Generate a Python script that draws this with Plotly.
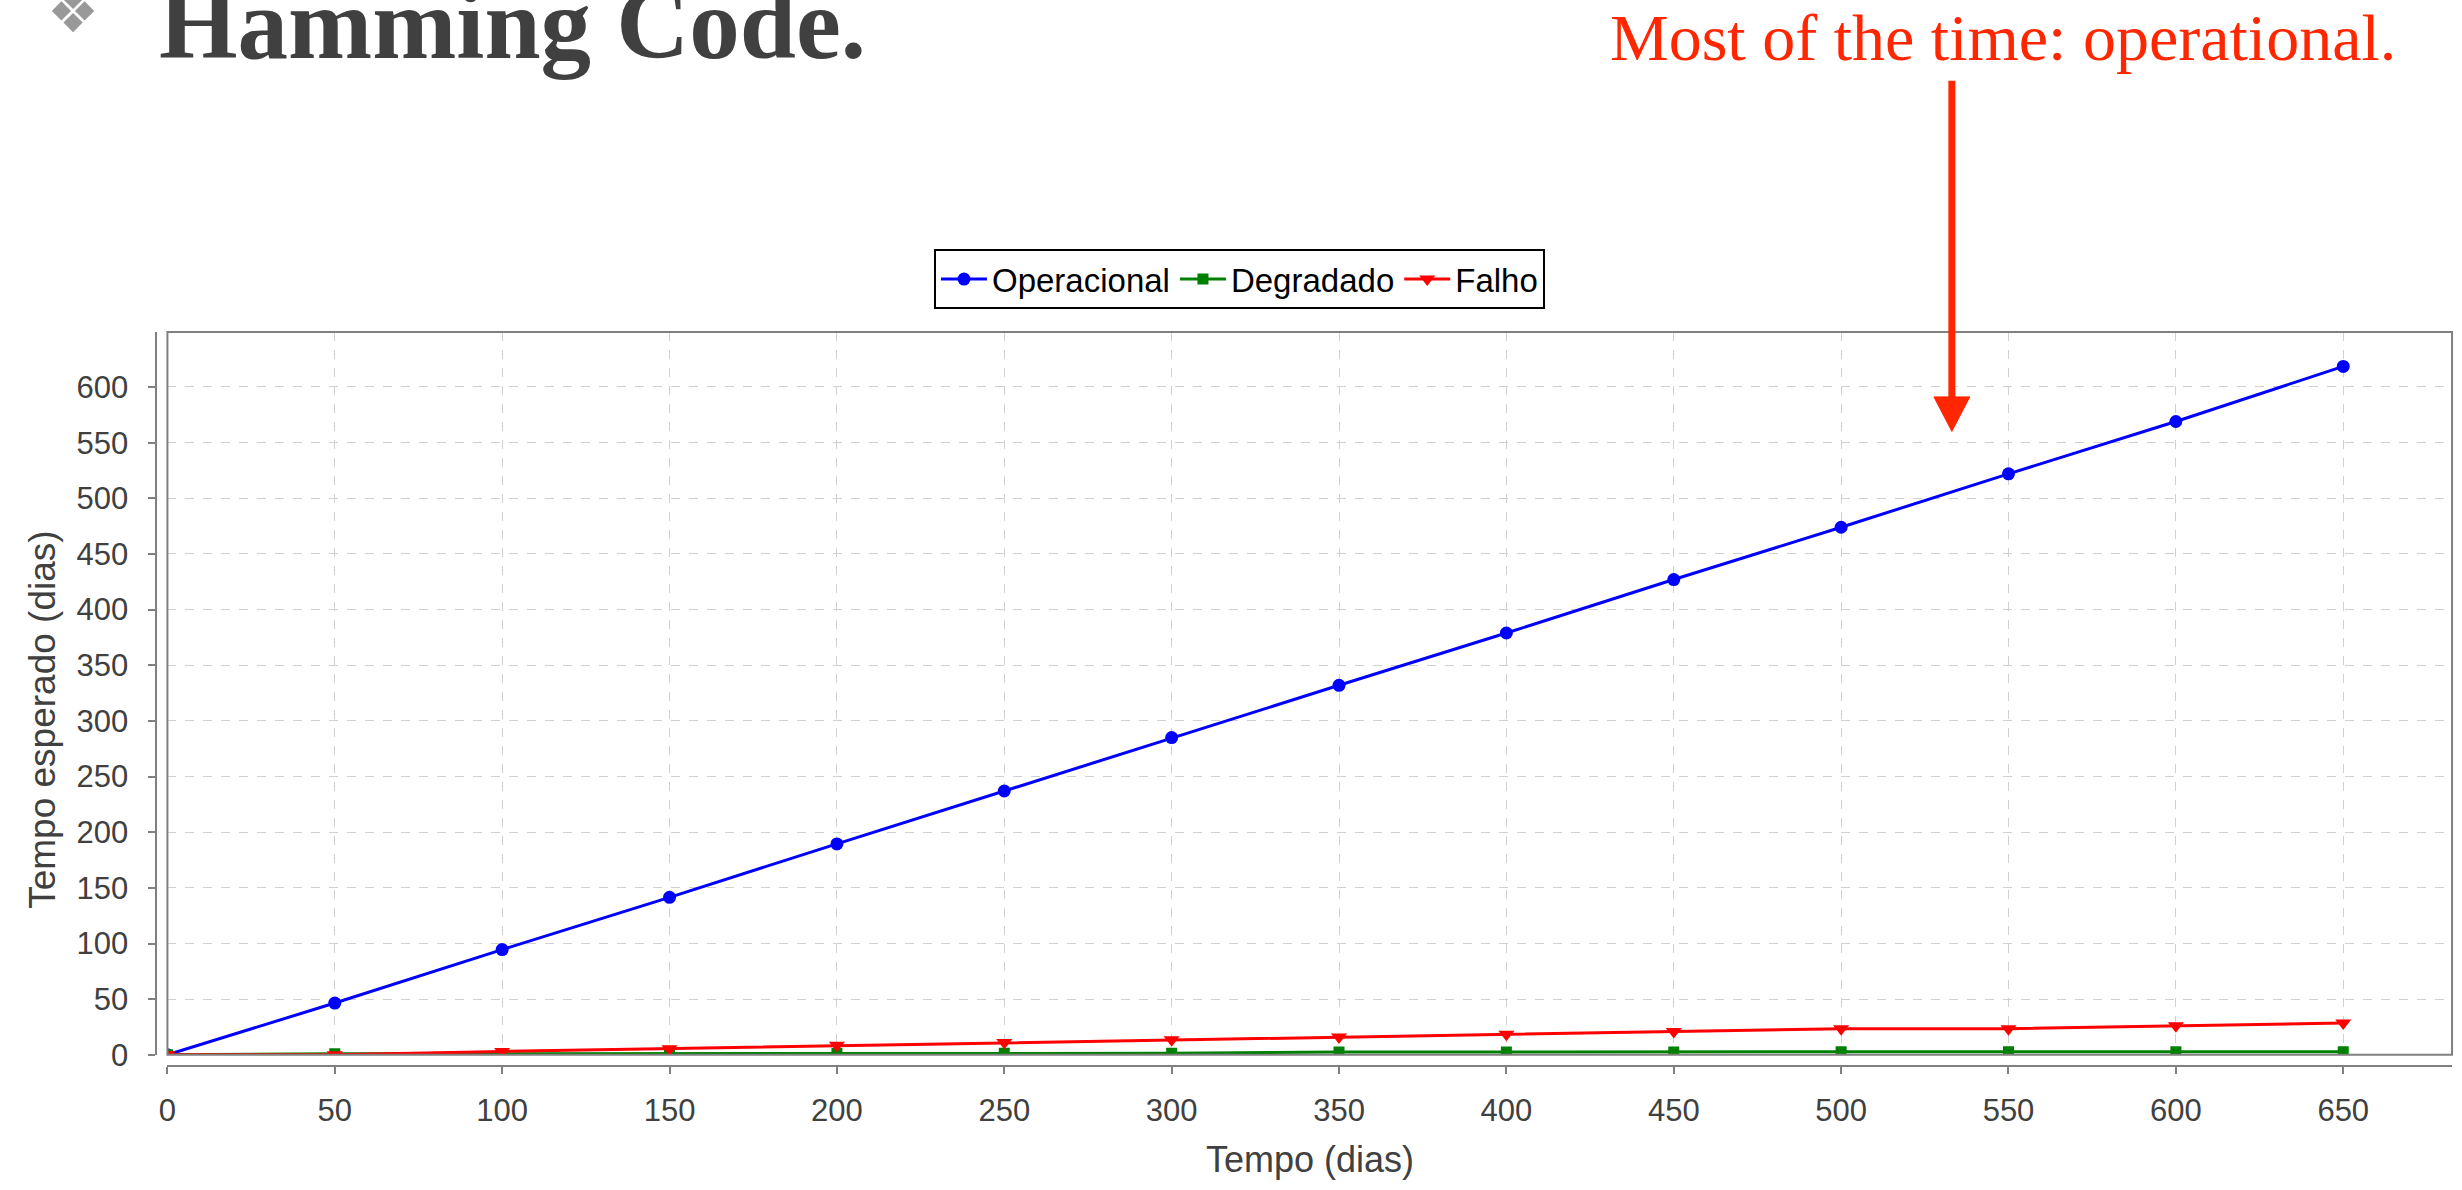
import plotly.graph_objects as go

# ---- data ----
tempo = [0, 50, 100, 150, 200, 250, 300, 350, 400, 450, 500, 550, 600, 650]
operacional = [0, 46.5, 94.5, 141.5, 189.5, 237, 285, 332, 379, 427, 474, 522, 569, 618.5]
degradado = [0, 1, 1, 1.2, 1.2, 1.3, 1.3, 2.5, 2.6, 2.6, 2.7, 2.7, 2.7, 2.8]
falho = [0, 0, 3, 5.5, 8.5, 11, 13.5, 16, 18.5, 21, 23.5, 23.5, 26, 28.5]
x_ticks = [0, 50, 100, 150, 200, 250, 300, 350, 400, 450, 500, 550, 600, 650]
y_ticks = [0, 50, 100, 150, 200, 250, 300, 350, 400, 450, 500, 550, 600]

W, H = 2462, 1190
def px(x):
    return x / W
def py(y):
    return 1 - y / H

PLOT_L, PLOT_R, PLOT_T, PLOT_B = 159, 2452, 337, 1071
AXIS_X_POS = 1082   # x axis line (pixels from top)
AXIS_Y_POS = 148    # y axis line (pixels from left)

fig = go.Figure()
fig.add_trace(go.Scatter(x=tempo, y=operacional, name="Operacional", mode="lines+markers",
                         line=dict(color="#0000ff", width=3),
                         marker=dict(symbol="circle", size=13, color="#0000ff")))
fig.add_trace(go.Scatter(x=tempo, y=degradado, name="Degradado", mode="lines+markers",
                         line=dict(color="#008000", width=3),
                         marker=dict(symbol="square", size=11, color="#008000")))
fig.add_trace(go.Scatter(x=tempo, y=falho, name="Falho", mode="lines+markers",
                         line=dict(color="#ff0000", width=3),
                         marker=dict(symbol="triangle-down", size=14, color="#ff0000")))

tick_font = dict(family="Liberation Sans, Arial, sans-serif", size=31, color="#404040")

fig.update_layout(
    width=W, height=H,
    margin=dict(l=0, r=0, t=0, b=0),
    paper_bgcolor="white", plot_bgcolor="white",
    showlegend=True,
    legend=dict(orientation="h", x=px(1235), xanchor="center", y=py(253), yanchor="top",
                bordercolor="black", borderwidth=2, bgcolor="white",
                font=dict(family="Liberation Sans, Arial, sans-serif", size=33, color="black"),
                itemwidth=46),
    xaxis=dict(domain=[px(PLOT_L), px(PLOT_R)], range=[0, 682.5],
               tickvals=x_ticks, ticktext=[str(v) for v in x_ticks],
               ticks="outside", ticklen=7, tickwidth=2, tickcolor="#808080",
               showline=True, linecolor="#808080", linewidth=2,
               anchor="free", position=py(AXIS_X_POS),
               showgrid=True, gridcolor="#d0d0d0", griddash="dash", gridwidth=1,
               zeroline=False, tickfont=tick_font, ticklabelstandoff=10),
    yaxis=dict(domain=[py(PLOT_B), py(PLOT_T)], range=[0, 649.5],
               tickvals=y_ticks, ticktext=[str(v) for v in y_ticks],
               ticks="outside", ticklen=7, tickwidth=2, tickcolor="#808080",
               showline=True, linecolor="#808080", linewidth=2,
               anchor="free", position=px(AXIS_Y_POS),
               showgrid=True, gridcolor="#d0d0d0", griddash="dash", gridwidth=1,
               zeroline=False, tickfont=tick_font, ticklabelstandoff=14),
)

# plot outline
fig.add_shape(type="rect", xref="paper", yref="paper",
              x0=px(PLOT_L), x1=px(PLOT_R), y0=py(PLOT_B), y1=py(PLOT_T),
              line=dict(color="#808080", width=2), fillcolor="rgba(0,0,0,0)", layer="above")

# red arrow
red = "#ff2600"
fig.add_shape(type="line", xref="paper", yref="paper",
              x0=px(1950), x1=px(1950), y0=py(82), y1=py(405),
              line=dict(color=red, width=7))
path = "M {} {} L {} {} L {} {} Z".format(px(1932), py(403), px(1968), py(403), px(1950), py(438))
fig.add_shape(type="path", xref="paper", yref="paper", path=path,
              fillcolor=red, line=dict(color=red, width=1))

annotations = [
    dict(text="<b>Hamming Code.</b>", x=px(149), y=py(24), xanchor="left", yanchor="middle",
         font=dict(family="Liberation Serif, serif", size=101, color="#404040")),
    dict(text="\u2756", x=px(64), y=py(12), xanchor="center", yanchor="middle",
         font=dict(family="DejaVu Sans, sans-serif", size=58, color="#999999")),
    dict(text="Most of the time: operational.", x=px(2001), y=py(38), xanchor="center", yanchor="middle",
         font=dict(family="Liberation Serif, serif", size=66, color=red)),
    dict(text="Tempo (dias)", x=px(1306), y=py(1177), xanchor="center", yanchor="middle",
         font=dict(family="Liberation Sans, Arial, sans-serif", size=36, color="#404040")),
    dict(text="Tempo esperado (dias)", x=px(34), y=py(731), xanchor="center", yanchor="middle",
         textangle=-90,
         font=dict(family="Liberation Sans, Arial, sans-serif", size=37, color="#404040")),
]
for a in annotations:
    a.update(xref="paper", yref="paper", showarrow=False)
fig.update_layout(annotations=annotations)

fig.write_html("out.html", post_script="document.body.style.margin='0';document.body.style.overflow='hidden';")
